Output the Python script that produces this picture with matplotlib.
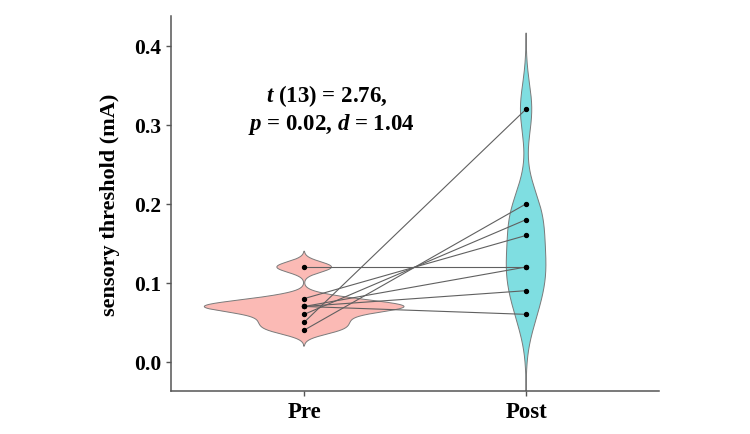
import numpy as np
import matplotlib
matplotlib.use("Agg")
import matplotlib.pyplot as plt

plt.rcParams["font.family"] = "Liberation Serif"
plt.rcParams["font.weight"] = "bold"
plt.rcParams["axes.labelweight"] = "bold"
plt.rcParams["mathtext.fontset"] = "custom"
plt.rcParams["mathtext.it"] = "Liberation Serif:italic:bold"
plt.rcParams["mathtext.rm"] = "Liberation Serif:bold"

# paired values per subject (Pre -> Post)
groups = ["Pre", "Post"]
pre = [0.12, 0.04, 0.06, 0.08, 0.07, 0.07, 0.07, 0.05]
post = [0.12, 0.20, 0.18, 0.16, 0.12, 0.09, 0.06, 0.32]
fills = ["#F8766D", "#00BFC4"]
stat_text = ["$t$ (13) = 2.76,", "$p$ = 0.02, $d$ = 1.04"]


def bw_nrd0(x):
    x = np.asarray(x)
    q1, q3 = np.percentile(x, [25, 75])
    lo = min(np.std(x, ddof=1), (q3 - q1) / 1.34)
    return 0.9 * lo * len(x) ** -0.2


def kde(x, n=512, cut=3):
    x = np.asarray(x)
    bw = bw_nrd0(x)
    grid = np.linspace(x.min() - cut * bw, x.max() + cut * bw, n)
    k = np.exp(-0.5 * ((grid[:, None] - x[None, :]) / bw) ** 2)
    dens = k.sum(1) / (len(x) * bw * np.sqrt(2 * np.pi))
    return grid, dens


fig = plt.figure(figsize=(7.5, 4.35), dpi=100)
ax = fig.add_axes([0.228, 0.099, 0.651, 0.862])

# violins, scaled so that all have the same area (widest = 0.9)
kdes = [kde(pre), kde(post)]
dmax = max(d.max() for _, d in kdes)
for i, (grid, dens) in enumerate(kdes):
    pos = i + 1
    w = 0.45 * dens / dmax
    ax.fill_betweenx(grid, pos - w, pos + w, facecolor=fills[i], alpha=0.5,
                     edgecolor="none", zorder=1)
    ax.plot(np.r_[pos - w, (pos + w)[::-1], pos - w[0]],
            np.r_[grid, grid[::-1], grid[0]], color="#7a7a7a", lw=0.7, zorder=2)

# paired lines
for a, b in zip(pre, post):
    ax.plot([1, 2], [a, b], color="#606060", lw=0.8, zorder=3)

ax.scatter(np.ones(len(pre)), pre, s=8, color="black", zorder=4)
ax.scatter(np.full(len(post), 2), post, s=8, color="black", zorder=4)

ax.text(1.10, 0.338, stat_text[0], ha="center", va="center", fontsize=16.5)
ax.text(1.12, 0.302, stat_text[1], ha="center", va="center", fontsize=16.5)

ax.set_xlim(0.4, 2.6)
ax.set_ylim(-0.037, 0.438)
ax.set_xticks([1, 2])
ax.set_xticklabels(groups)
ax.set_yticks([0.0, 0.1, 0.2, 0.3, 0.4])
ax.set_yticklabels(["0.0", "0.1", "0.2", "0.3", "0.4"])
ax.set_ylabel("sensory threshold (mA)", fontsize=16, labelpad=10)

for s in ["top", "right"]:
    ax.spines[s].set_visible(False)
for s in ["left", "bottom"]:
    ax.spines[s].set_color("#555555")
    ax.spines[s].set_linewidth(1.1)
ax.tick_params(axis="both", colors="#555555", length=3.5, width=1.0,
               labelsize=15.5, labelcolor="black")
ax.tick_params(axis="x", pad=4, labelsize=16.5)

fig.savefig("out.png", dpi=100)
